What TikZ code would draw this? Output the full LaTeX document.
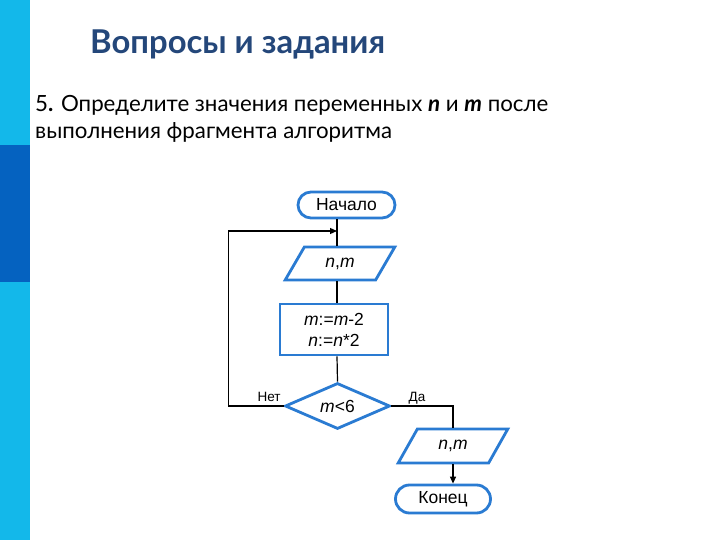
\documentclass[tikz,border=0pt]{standalone}
\usepackage{fontspec}
\setmainfont{Lato}
\newfontfamily\arialf{Liberation Sans}
\usetikzlibrary{shapes.geometric,shapes.misc,arrows.meta}
\definecolor{barlight}{HTML}{13B8EA}
\definecolor{bardark}{HTML}{0562C0}
\definecolor{titleblue}{HTML}{24477A}
\definecolor{shapeblue}{HTML}{2A7BD2}
\tikzset{
  fc/.style={draw=shapeblue, line width=2.8pt, fill=white, inner sep=0pt, font=\arialf\fontsize{17.5}{20}\selectfont, align=center},
  term/.style={fc, rounded rectangle},
  io/.style={fc, trapezium, trapezium left angle=56, trapezium right angle=124, trapezium stretches=true},
  proc/.style={fc, rectangle},
  dec/.style={fc, diamond},
  conn/.style={line width=1.2pt, draw=black},
  tip/.style={-{Triangle[length=7pt,width=6pt]}},
  lbl/.style={font=\arialf\fontsize{13.5}{15}\selectfont, inner sep=0pt},
  body/.style={anchor=base west, inner sep=0pt, font=\fontsize{22.3}{27}\selectfont}
}
\begin{document}
\begin{tikzpicture}[x=1pt,y=-1pt]
\useasboundingbox (0,0) rectangle (720,540);
\fill[white] (0,0) rectangle (720,540);
% left bar
\fill[barlight] (0,0) rectangle (30,540);
\fill[bardark] (0,145) rectangle (30,282);
% title and task
\node[anchor=base west, inner sep=0pt, text=titleblue, font=\bfseries\fontsize{32.8}{36}\selectfont] (title) at (90,54) {Вопросы и задания};
\node[body] (task1) at (35,112) {5\textbf{.} Определите значения переменных \textbf{\textit{n}} и \textbf{\textit{m}} после};
\node[body] (task2) at (35,139) {выполнения фрагмента алгоритма};
% flowchart
\coordinate (col) at (337,0);
\node[term, minimum width=97, minimum height=26] (start) at (346.5,205) {Начало};
\node[io, minimum width=110, minimum height=33] (in1) at (340,263.5) {\textit{n},\textit{m}};
\node[proc, minimum width=108, minimum height=51] (calc) at (334,329.5) {\textit{m}:=\textit{m}-2\\[1pt]\textit{n}:=\textit{n}*2};
\node[dec, minimum width=105, minimum height=46, aspect=2.28] (cond) at (337.5,406) {\textit{m}<6};
\node[io, minimum width=110, minimum height=34] (out1) at (453,446) {\textit{n},\textit{m}};
\node[term, minimum width=95, minimum height=28] (stop) at (443,499) {Конец};
\coordinate (loopin) at (337,231);
\draw[conn] (start.south -| col) -- (in1.north -| col);
\draw[conn] (in1.south -| col) -- (calc.north -| col);
\draw[conn] (calc.south -| col) -- (cond.north);
\draw[conn, tip] (cond.west) -- ++(-55,0) |- (loopin);
\draw[conn] (cond.east) -| (out1.north);
\draw[conn, tip] (out1.south) -- (out1.south |- stop.north);
\node[lbl, anchor=base] (no) at (269,401) {Нет};
\node[lbl, anchor=base] (yes) at (417,401) {Да};
\end{tikzpicture}
\end{document}
